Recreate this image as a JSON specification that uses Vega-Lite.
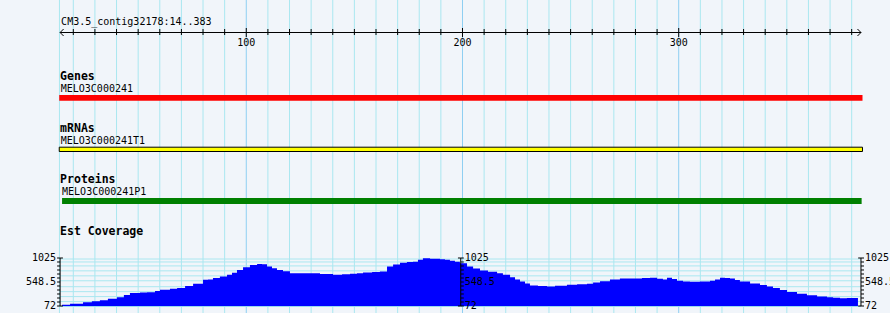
{
"$schema":"https://vega.github.io/schema/vega-lite/v6.json",
"width":890,"height":313,"autosize":{"type":"none"},"padding":0,
"background":"#f1f5fa",
"config":{"view":{"stroke":null},"text":{"font":"DejaVu Sans Mono","fontSize":10,"color":"black"}},
"datasets":{
 "grid":[{"pos":13.6},{"pos":20},{"pos":30},{"pos":40},{"pos":50},{"pos":60},{"pos":70},{"pos":80},{"pos":90},{"pos":100},{"pos":110},{"pos":120},{"pos":130},{"pos":140},{"pos":150},{"pos":160},{"pos":170},{"pos":180},{"pos":190},{"pos":200},{"pos":210},{"pos":220},{"pos":230},{"pos":240},{"pos":250},{"pos":260},{"pos":270},{"pos":280},{"pos":290},{"pos":300},{"pos":310},{"pos":320},{"pos":330},{"pos":340},{"pos":350},{"pos":360},{"pos":370},{"pos":380}],
 "ruler":[{"start":13.9,"end":384.3,"label":"CM3.5_contig32178:14..383"}],
 "features":[
  {"track":"Genes","name":"MELO3C000241","start":13.5,"end":385},
  {"track":"mRNAs","name":"MELO3C000241T1","start":13.5,"end":385},
  {"track":"Proteins","name":"MELO3C000241P1","start":14.8,"end":384.6}
 ],
 "tracks":[{"title":"Genes"},{"title":"mRNAs"},{"title":"Proteins"},{"title":"Est Coverage"}],
 "coverage":[
  {"pos":14.8,"v":95},{"pos":18.5,"v":115},{"pos":24.5,"v":147},{"pos":28.6,"v":165},{"pos":32.3,"v":186},{"pos":36.0,"v":215},{"pos":40.2,"v":245},{"pos":43.4,"v":290},{"pos":46.2,"v":331},{"pos":50.8,"v":340},{"pos":54.1,"v":343},{"pos":57.8,"v":370},{"pos":60.1,"v":396},{"pos":64.7,"v":415},{"pos":68.0,"v":429},{"pos":71.7,"v":470},{"pos":75.4,"v":514},{"pos":80.0,"v":593},{"pos":82.3,"v":600},{"pos":84.6,"v":626},{"pos":87.8,"v":660},{"pos":91.1,"v":691},{"pos":93.4,"v":730},{"pos":95.7,"v":789},{"pos":98.5,"v":840},{"pos":101.7,"v":887},{"pos":105.0,"v":907},{"pos":107.3,"v":900},{"pos":109.6,"v":854},{"pos":111.9,"v":820},{"pos":114.2,"v":789},{"pos":117.0,"v":760},{"pos":120.2,"v":724},{"pos":124.8,"v":724},{"pos":129.5,"v":724},{"pos":134.1,"v":705},{"pos":140.1,"v":691},{"pos":144.3,"v":700},{"pos":148.0,"v":711},{"pos":151.2,"v":720},{"pos":154.0,"v":736},{"pos":158.2,"v":745},{"pos":161.8,"v":756},{"pos":165.1,"v":854},{"pos":167.9,"v":895},{"pos":171.1,"v":933},{"pos":174.3,"v":945},{"pos":177.1,"v":952},{"pos":179.4,"v":990},{"pos":181.7,"v":1018},{"pos":185.0,"v":1010},{"pos":189.6,"v":999},{"pos":191.9,"v":990},{"pos":194.2,"v":972},{"pos":196.5,"v":950},{"pos":198.8,"v":920},{"pos":202.1,"v":854},{"pos":204.9,"v":815},{"pos":208.1,"v":776},{"pos":211.8,"v":750},{"pos":216.0,"v":724},{"pos":218.7,"v":690},{"pos":222.0,"v":645},{"pos":224.3,"v":600},{"pos":226.6,"v":559},{"pos":228.9,"v":520},{"pos":231.2,"v":481},{"pos":234.9,"v":470},{"pos":239.1,"v":461},{"pos":242.8,"v":475},{"pos":248.3,"v":494},{"pos":253.0,"v":505},{"pos":257.6,"v":514},{"pos":260.4,"v":540},{"pos":263.6,"v":565},{"pos":268.2,"v":600},{"pos":272.8,"v":619},{"pos":278.9,"v":619},{"pos":283.0,"v":630},{"pos":286.7,"v":632},{"pos":290.0,"v":615},{"pos":292.7,"v":600},{"pos":294.6,"v":632},{"pos":296.9,"v":610},{"pos":299.2,"v":573},{"pos":302.0,"v":560},{"pos":305.2,"v":553},{"pos":309.8,"v":560},{"pos":314.5,"v":573},{"pos":316.8,"v":600},{"pos":319.1,"v":632},{"pos":321.4,"v":630},{"pos":323.7,"v":619},{"pos":326.0,"v":590},{"pos":328.3,"v":559},{"pos":333.0,"v":520},{"pos":337.6,"v":488},{"pos":340.8,"v":460},{"pos":343.6,"v":429},{"pos":346.8,"v":390},{"pos":350.1,"v":350},{"pos":354.7,"v":315},{"pos":359.3,"v":284},{"pos":364.0,"v":262},{"pos":368.6,"v":245},{"pos":371.4,"v":235},{"pos":374.6,"v":225},{"pos":377.8,"v":230},{"pos":380.6,"v":232},{"pos":382.9,"v":232}
 ],
 "scaleTicks":[{"v":72},{"v":151.4},{"v":230.8},{"v":310.3},{"v":389.7},{"v":469.1},{"v":548.5},{"v":627.9},{"v":707.3},{"v":786.8},{"v":866.2},{"v":945.6},{"v":1025}],
 "scaleLabels":[{"v":1025,"label":"1025"},{"v":548.5,"label":"548.5"},{"v":72,"label":"72"}],
 "hgrid":[{"v":1005},{"v":946},{"v":868},{"v":770},{"v":671},{"v":573},{"v":455},{"v":357},{"v":259},{"v":160}]
},
"layer":[
 {"data":{"name":"grid"},"mark":{"type":"rule","strokeWidth":1},
  "encoding":{"x":{"field":"pos","type":"quantitative","scale":{"domain":[-13.9,397.72],"nice":false,"zero":false},"axis":null},
   "color":{"condition":{"test":"datum.pos % 100 === 0","value":"#8ecff2"},"value":"#aae7f0"}}},
 {"data":{"name":"ruler"},"mark":{"type":"rule","color":"black"},
  "encoding":{"x":{"field":"start","type":"quantitative","scale":{"domain":[-13.9,397.72],"nice":false,"zero":false},"axis":null},"x2":{"field":"end"},"y":{"value":32.5}}},
 {"data":{"name":"grid"},"transform":[{"filter":"datum.pos >= 20 && datum.pos % 100 !== 0"}],"mark":{"type":"rule","color":"black"},
  "encoding":{"x":{"field":"pos","type":"quantitative","scale":{"domain":[-13.9,397.72],"nice":false,"zero":false},"axis":null},"y":{"value":29},"y2":{"value":35}}},
 {"data":{"name":"grid"},"transform":[{"filter":"datum.pos % 100 === 0"}],"mark":{"type":"rule","color":"black"},
  "encoding":{"x":{"field":"pos","type":"quantitative","scale":{"domain":[-13.9,397.72],"nice":false,"zero":false},"axis":null},"y":{"value":28},"y2":{"value":37}}},
 {"data":{"name":"ruler"},"mark":{"type":"point","shape":"M1,-1L0,0L1,1","size":49,"filled":false,"color":"black","opacity":1,"strokeWidth":1},
  "encoding":{"x":{"field":"start","type":"quantitative","scale":{"domain":[-13.9,397.72],"nice":false,"zero":false},"axis":null},"y":{"value":32.5}}},
 {"data":{"name":"ruler"},"mark":{"type":"point","shape":"M-1,-1L0,0L-1,1","size":49,"filled":false,"color":"black","opacity":1,"strokeWidth":1},
  "encoding":{"x":{"field":"end","type":"quantitative","scale":{"domain":[-13.9,397.72],"nice":false,"zero":false},"axis":null},"y":{"value":32.5}}},
 {"data":{"name":"grid"},"transform":[{"filter":"datum.pos % 100 === 0"}],"mark":{"type":"text","align":"center","baseline":"alphabetic"},
  "encoding":{"x":{"field":"pos","type":"quantitative","scale":{"domain":[-13.9,397.72],"nice":false,"zero":false},"axis":null},"y":{"value":46},"text":{"field":"pos","type":"nominal"}}},
 {"data":{"name":"ruler"},"mark":{"type":"text","align":"left","baseline":"alphabetic","dx":1},
  "encoding":{"x":{"field":"start","type":"quantitative","scale":{"domain":[-13.9,397.72],"nice":false,"zero":false},"axis":null},"y":{"value":25},"text":{"field":"label"}}},

 {"data":{"name":"features"},"transform":[{"filter":"datum.track === 'Genes'"}],"mark":{"type":"rect","color":"#ff0000"},
  "encoding":{"x":{"field":"start","type":"quantitative","scale":{"domain":[-13.9,397.72],"nice":false,"zero":false},"axis":null},"x2":{"field":"end"},"y":{"value":95},"y2":{"value":100.7}}},
 {"data":{"name":"features"},"transform":[{"filter":"datum.track === 'mRNAs'"}],"mark":{"type":"rect","fill":"#ffff00","stroke":"black","strokeWidth":1},
  "encoding":{"x":{"field":"start","type":"quantitative","scale":{"domain":[-13.9,397.72],"nice":false,"zero":false},"axis":null},"x2":{"field":"end"},"y":{"value":147.2},"y2":{"value":151.5}}},
 {"data":{"name":"features"},"transform":[{"filter":"datum.track === 'Proteins'"}],"mark":{"type":"rect","color":"#008000"},
  "encoding":{"x":{"field":"start","type":"quantitative","scale":{"domain":[-13.9,397.72],"nice":false,"zero":false},"axis":null},"x2":{"field":"end"},"y":{"value":198},"y2":{"value":204}}},
 {"data":{"name":"features"},"transform":[{"filter":"datum.track === 'Genes'"}],"mark":{"type":"text","align":"left","baseline":"alphabetic","dx":1.5},
  "encoding":{"x":{"field":"start","type":"quantitative","scale":{"domain":[-13.9,397.72],"nice":false,"zero":false},"axis":null},"y":{"value":92.3},"text":{"field":"name"}}},
 {"data":{"name":"features"},"transform":[{"filter":"datum.track === 'mRNAs'"}],"mark":{"type":"text","align":"left","baseline":"alphabetic","dx":1.5},
  "encoding":{"x":{"field":"start","type":"quantitative","scale":{"domain":[-13.9,397.72],"nice":false,"zero":false},"axis":null},"y":{"value":144},"text":{"field":"name"}}},
 {"data":{"name":"features"},"transform":[{"filter":"datum.track === 'Proteins'"}],"mark":{"type":"text","align":"left","baseline":"alphabetic","dx":0},
  "encoding":{"x":{"field":"start","type":"quantitative","scale":{"domain":[-13.9,397.72],"nice":false,"zero":false},"axis":null},"y":{"value":195},"text":{"field":"name"}}},

 {"data":{"name":"tracks"},"transform":[{"filter":"datum.title === 'Genes'"}],"mark":{"type":"text","align":"left","baseline":"alphabetic","fontWeight":"bold","fontSize":11.5},
  "encoding":{"x":{"datum":13.9,"type":"quantitative","scale":{"domain":[-13.9,397.72],"nice":false,"zero":false},"axis":null},"y":{"value":79.5},"text":{"field":"title"}}},
 {"data":{"name":"tracks"},"transform":[{"filter":"datum.title === 'mRNAs'"}],"mark":{"type":"text","align":"left","baseline":"alphabetic","fontWeight":"bold","fontSize":11.5},
  "encoding":{"x":{"datum":13.9,"type":"quantitative","scale":{"domain":[-13.9,397.72],"nice":false,"zero":false},"axis":null},"y":{"value":131.5},"text":{"field":"title"}}},
 {"data":{"name":"tracks"},"transform":[{"filter":"datum.title === 'Proteins'"}],"mark":{"type":"text","align":"left","baseline":"alphabetic","fontWeight":"bold","fontSize":11.5},
  "encoding":{"x":{"datum":13.9,"type":"quantitative","scale":{"domain":[-13.9,397.72],"nice":false,"zero":false},"axis":null},"y":{"value":183.3},"text":{"field":"title"}}},
 {"data":{"name":"tracks"},"transform":[{"filter":"datum.title === 'Est Coverage'"}],"mark":{"type":"text","align":"left","baseline":"alphabetic","fontWeight":"bold","fontSize":11.5},
  "encoding":{"x":{"datum":13.9,"type":"quantitative","scale":{"domain":[-13.9,397.72],"nice":false,"zero":false},"axis":null},"y":{"value":235},"text":{"field":"title"}}},

 {"data":{"name":"hgrid"},"mark":{"type":"rule","color":"#aae7f0"},
  "encoding":{"x":{"datum":13.9,"type":"quantitative","scale":{"domain":[-13.9,397.72],"nice":false,"zero":false},"axis":null},"x2":{"datum":384.3},
   "y":{"field":"v","type":"quantitative","scale":{"domain":[72,1025],"range":[306,258],"nice":false,"zero":false},"axis":null}}},
 {"data":{"name":"ruler"},"mark":{"type":"rule","color":"#9ad8f0"},
  "encoding":{"x":{"datum":13.9,"type":"quantitative","scale":{"domain":[-13.9,397.72],"nice":false,"zero":false},"axis":null},"x2":{"datum":384.3},"y":{"value":306.5}}},
 {"data":{"name":"coverage"},"mark":{"type":"area","interpolate":"step-after","color":"#0000ff","opacity":1},
  "encoding":{"x":{"field":"pos","type":"quantitative","scale":{"domain":[-13.9,397.72],"nice":false,"zero":false},"axis":null},
   "y":{"field":"v","type":"quantitative","scale":{"domain":[72,1025],"range":[306,258],"nice":false,"zero":false},"axis":null},"y2":{"datum":72}}},

 {"data":{"name":"ruler"},"mark":{"type":"rule","color":"black"},
  "encoding":{"x":{"datum":13.9,"type":"quantitative","scale":{"domain":[-13.9,397.72],"nice":false,"zero":false},"axis":null},
   "y":{"datum":72,"type":"quantitative","scale":{"domain":[72,1025],"range":[306,258],"nice":false,"zero":false},"axis":null},"y2":{"datum":1025}}},
 {"data":{"name":"scaleTicks"},"mark":{"type":"rule","color":"black"},
  "encoding":{"x":{"datum":12.5,"type":"quantitative","scale":{"domain":[-13.9,397.72],"nice":false,"zero":false},"axis":null},"x2":{"datum":13.9},
   "y":{"field":"v","type":"quantitative","scale":{"domain":[72,1025],"range":[306,258],"nice":false,"zero":false},"axis":null}}},
 {"data":{"name":"scaleTicks"},"transform":[{"filter":"datum.v === 72 || datum.v === 1025"}],"mark":{"type":"rule","color":"black"},
  "encoding":{"x":{"datum":13.9,"type":"quantitative","scale":{"domain":[-13.9,397.72],"nice":false,"zero":false},"axis":null},"x2":{"datum":15.2},
   "y":{"field":"v","type":"quantitative","scale":{"domain":[72,1025],"range":[306,258],"nice":false,"zero":false},"axis":null}}},
 {"data":{"name":"scaleLabels"},"mark":{"type":"text","align":"right","baseline":"middle","dx":-4},
  "encoding":{"x":{"datum":13.9,"type":"quantitative","scale":{"domain":[-13.9,397.72],"nice":false,"zero":false},"axis":null},
   "y":{"field":"v","type":"quantitative","scale":{"domain":[72,1025],"range":[306,258],"nice":false,"zero":false},"axis":null},"text":{"field":"label"}}},

 {"data":{"name":"ruler"},"mark":{"type":"rule","color":"black"},
  "encoding":{"x":{"datum":199.2,"type":"quantitative","scale":{"domain":[-13.9,397.72],"nice":false,"zero":false},"axis":null},
   "y":{"datum":72,"type":"quantitative","scale":{"domain":[72,1025],"range":[306,258],"nice":false,"zero":false},"axis":null},"y2":{"datum":1025}}},
 {"data":{"name":"scaleTicks"},"mark":{"type":"rule","color":"black"},
  "encoding":{"x":{"datum":199.2,"type":"quantitative","scale":{"domain":[-13.9,397.72],"nice":false,"zero":false},"axis":null},"x2":{"datum":200.6},
   "y":{"field":"v","type":"quantitative","scale":{"domain":[72,1025],"range":[306,258],"nice":false,"zero":false},"axis":null}}},
 {"data":{"name":"scaleTicks"},"transform":[{"filter":"datum.v === 72 || datum.v === 1025"}],"mark":{"type":"rule","color":"black"},
  "encoding":{"x":{"datum":197.9,"type":"quantitative","scale":{"domain":[-13.9,397.72],"nice":false,"zero":false},"axis":null},"x2":{"datum":199.2},
   "y":{"field":"v","type":"quantitative","scale":{"domain":[72,1025],"range":[306,258],"nice":false,"zero":false},"axis":null}}},
 {"data":{"name":"scaleLabels"},"mark":{"type":"text","align":"left","baseline":"middle","dx":4},
  "encoding":{"x":{"datum":199.2,"type":"quantitative","scale":{"domain":[-13.9,397.72],"nice":false,"zero":false},"axis":null},
   "y":{"field":"v","type":"quantitative","scale":{"domain":[72,1025],"range":[306,258],"nice":false,"zero":false},"axis":null},"text":{"field":"label"}}},

 {"data":{"name":"ruler"},"mark":{"type":"rule","color":"black"},
  "encoding":{"x":{"datum":384.3,"type":"quantitative","scale":{"domain":[-13.9,397.72],"nice":false,"zero":false},"axis":null},
   "y":{"datum":72,"type":"quantitative","scale":{"domain":[72,1025],"range":[306,258],"nice":false,"zero":false},"axis":null},"y2":{"datum":1025}}},
 {"data":{"name":"scaleTicks"},"mark":{"type":"rule","color":"black"},
  "encoding":{"x":{"datum":384.3,"type":"quantitative","scale":{"domain":[-13.9,397.72],"nice":false,"zero":false},"axis":null},"x2":{"datum":385.7},
   "y":{"field":"v","type":"quantitative","scale":{"domain":[72,1025],"range":[306,258],"nice":false,"zero":false},"axis":null}}},
 {"data":{"name":"scaleTicks"},"transform":[{"filter":"datum.v === 72 || datum.v === 1025"}],"mark":{"type":"rule","color":"black"},
  "encoding":{"x":{"datum":383.0,"type":"quantitative","scale":{"domain":[-13.9,397.72],"nice":false,"zero":false},"axis":null},"x2":{"datum":384.3},
   "y":{"field":"v","type":"quantitative","scale":{"domain":[72,1025],"range":[306,258],"nice":false,"zero":false},"axis":null}}},
 {"data":{"name":"scaleLabels"},"mark":{"type":"text","align":"left","baseline":"middle","dx":4},
  "encoding":{"x":{"datum":384.3,"type":"quantitative","scale":{"domain":[-13.9,397.72],"nice":false,"zero":false},"axis":null},
   "y":{"field":"v","type":"quantitative","scale":{"domain":[72,1025],"range":[306,258],"nice":false,"zero":false},"axis":null},"text":{"field":"label"}}}
]
}
